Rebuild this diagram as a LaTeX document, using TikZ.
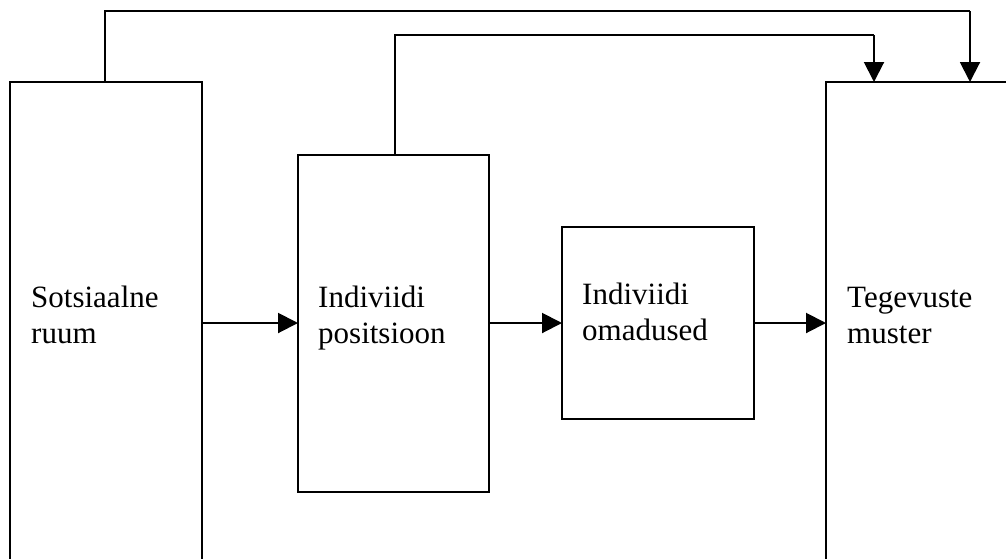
\documentclass[tikz,border=0pt]{standalone}
\usepackage{fontspec}
\setmainfont{Liberation Serif}
\usetikzlibrary{arrows.meta}

\begin{document}
\begin{tikzpicture}[x=1pt, y=-1pt,
  box/.style={draw, line width=2pt, rectangle, inner sep=0pt, outer sep=0pt,
              anchor=north west},
  lbl/.style={anchor=base west, inner sep=0pt, align=left,
              font=\fontsize{31}{36}\selectfont},
  arr/.style={line width=2pt, -{Triangle[length=20pt,width=20pt]}},
  link/.style={line width=2pt}]

  \useasboundingbox (0,0) rectangle (1006,558);
  \clip (0,0) rectangle (1006,558);

  % the four boxes (the outer two run past the lower and right borders)
  \node[box, minimum width=192pt, minimum height=520pt] (b1) at (10,82) {};
  \node[box, minimum width=191pt, minimum height=337pt] (b2) at (298,155) {};
  \node[box, minimum width=192pt, minimum height=192pt] (b3) at (562,227) {};
  \node[box, minimum width=240pt, minimum height=520pt] (b4) at (826,82) {};

  % labels (anchored at the baseline of their last line)
  \node[lbl] (l1) at (31,343)  {Sotsiaalne\\ruum};
  \node[lbl] (l2) at (318,343) {Indiviidi\\positsioon};
  \node[lbl] (l3) at (582,340) {Indiviidi\\omadused};
  \node[lbl] (l4) at (847,343) {Tegevuste\\muster};

  % horizontal chain
  \coordinate (row) at (0,323);
  \draw[arr] (b1.east |- row) -- (b2.west |- row);
  \draw[arr] (b2.east |- row) -- (b3.west |- row);
  \draw[arr] (b3.east |- row) -- (b4.west |- row);

  % feedback lines over the top
  \coordinate (t1) at (105,11);
  \coordinate (t1e) at (970,11);
  \coordinate (t2) at (395,35);
  \coordinate (t2e) at (874,35);
  \draw[link] (b1.north -| t1) |- (t1e);
  \draw[arr] (t1e) -- (b4.north -| t1e);
  \draw[link] (b2.north -| t2) |- (t2e);
  \draw[arr] (t2e) -- (b4.north -| t2e);
\end{tikzpicture}
\end{document}
